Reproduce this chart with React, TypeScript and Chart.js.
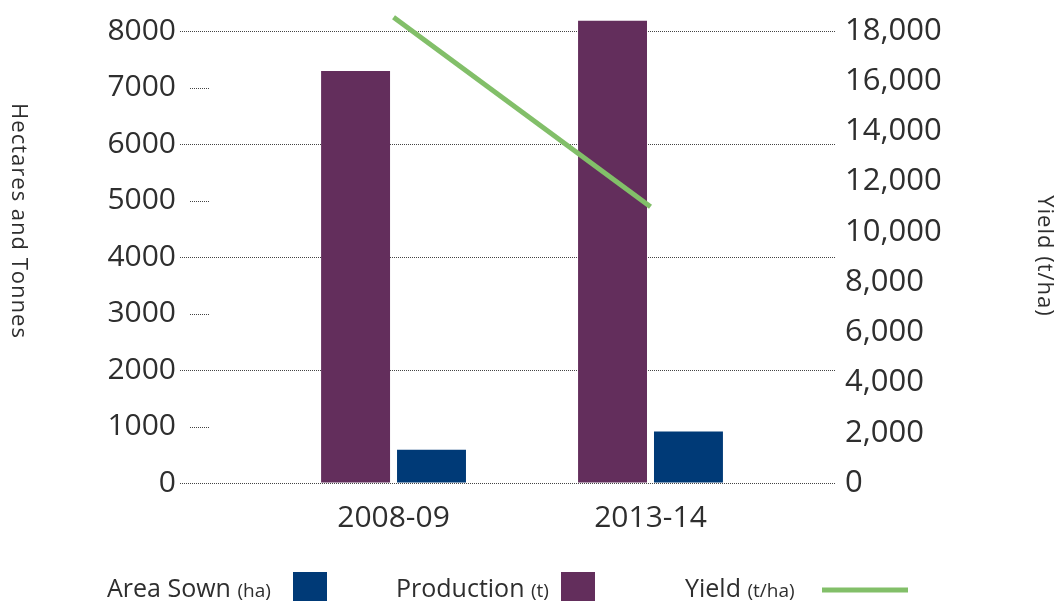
import React, { useEffect, useRef } from 'react';
import { Chart, registerables } from 'chart.js';

Chart.register(...registerables);

const categories = ['2008-09', '2013-14'];
const productionT = [7290, 8180];
const areaSownHa = [590, 910];
const yieldTHa = [18550, 11000];

const leftMin = 0;
const leftMax = 8000;
const leftStep = 1000;
const rightMin = 0;
const rightMax = 18000;
const rightStep = 2000;

const leftTitle = 'Hectares and Tonnes';
const rightTitle = 'Yield (t/ha)';
const legendItems = [
  { label: 'Area Sown', unit: '(ha)', kind: 'box', color: '#003a77' },
  { label: 'Production', unit: '(t)', kind: 'box', color: '#632e5c' },
  { label: 'Yield', unit: '(t/ha)', kind: 'line', color: '#82bf69' },
];

const FONT = '"Open Sans", "DejaVu Sans", sans-serif';
const TEXT = '#2e2e2e';
const GRID = '#444';

const decorPlugin = {
  id: 'decor',
  beforeDatasetsDraw(chart: any) {
    const { ctx, chartArea } = chart;
    const y = chart.scales.y;
    ctx.save();
    ctx.strokeStyle = GRID;
    ctx.lineWidth = 1;
    ctx.setLineDash([1, 1]);
    for (let v = leftMin + leftStep; v < leftMax; v += 2 * leftStep) {
      const py = Math.round(y.getPixelForValue(v)) + 0.5;
      ctx.beginPath();
      ctx.moveTo(chartArea.left + 10, py);
      ctx.lineTo(chartArea.left + 30, py);
      ctx.stroke();
    }
    ctx.restore();
  },
  afterDraw(chart: any) {
    const { ctx } = chart;
    ctx.save();
    ctx.fillStyle = TEXT;
    ctx.textAlign = 'center';
    ctx.textBaseline = 'middle';
    ctx.font = `22px ${FONT}`;
    (ctx as any).letterSpacing = '1px';
    ctx.save();
    ctx.translate(18, 221);
    ctx.rotate(Math.PI / 2);
    ctx.fillText(leftTitle, 0, 0);
    ctx.restore();
    ctx.save();
    ctx.translate(1044, 256);
    ctx.rotate(Math.PI / 2);
    ctx.fillText(rightTitle, 0, 0);
    ctx.restore();
    (ctx as any).letterSpacing = '0px';

    const xs = [107, 396, 685];
    const swatchX = [293, 561, 822];
    ctx.textAlign = 'left';
    ctx.textBaseline = 'alphabetic';
    legendItems.forEach((it, i) => {
      ctx.fillStyle = TEXT;
      ctx.font = `25px ${FONT}`;
      ctx.fillText(it.label, xs[i], 597);
      const w = ctx.measureText(it.label + ' ').width;
      ctx.font = `19px ${FONT}`;
      ctx.fillText(it.unit, xs[i] + w, 597);
      if (it.kind === 'box') {
        ctx.fillStyle = it.color;
        ctx.fillRect(swatchX[i], 572, 34, 29);
      } else {
        ctx.strokeStyle = it.color;
        ctx.lineWidth = 5;
        ctx.beginPath();
        ctx.moveTo(swatchX[i], 590);
        ctx.lineTo(swatchX[i] + 86, 590);
        ctx.stroke();
      }
    });
    ctx.restore();
  },
};

export default function App() {
  const ref = useRef<HTMLCanvasElement>(null);

  useEffect(() => {
    document.body.style.margin = '0';
    const canvas = ref.current;
    if (!canvas) return;
    const tickFont = { family: FONT, size: 30 };
    const chart = new Chart(canvas, {
      type: 'bar',
      data: {
        datasets: [
          {
            type: 'line',
            label: 'Yield (t/ha)',
            data: yieldTHa.map((v, i) => ({ x: i, y: v })),
            yAxisID: 'y1',
            borderColor: '#82bf69',
            borderWidth: 5,
            pointRadius: 0,
            borderCapStyle: 'butt',
            clip: false,
            order: 0,
          } as any,
          {
            label: 'Production (t)',
            data: productionT.map((v, i) => ({ x: i, y: v })),
            backgroundColor: '#632e5c',
            yAxisID: 'y',
            clip: false,
            order: 1,
          } as any,
          {
            label: 'Area Sown (ha)',
            data: areaSownHa.map((v, i) => ({ x: i, y: v })),
            backgroundColor: '#003a77',
            yAxisID: 'y',
            clip: false,
            order: 1,
          } as any,
        ],
      },
      options: {
        animation: false,
        responsive: false,
        maintainAspectRatio: false,
        categoryPercentage: 0.591,
        barPercentage: 0.908,
        layout: { padding: { top: 31, left: 0, right: 0, bottom: 0 } },
        plugins: { legend: { display: false }, tooltip: { enabled: false } },
        scales: {
          x: {
            type: 'linear',
            offset: false,
            min: -0.831,
            max: 1.718,
            afterBuildTicks: (s: any) => {
              s.ticks = categories.map((_, i) => ({ value: i }));
            },
            afterFit: (s: any) => {
              s.height = 119;
            },
            ticks: {
              callback: (v: any) => categories[v] ?? '',
              font: tickFont,
              color: TEXT,
              padding: 17,
              autoSkip: false,
              maxRotation: 0,
            },
            grid: { display: false, drawTicks: false },
            border: { display: false },
          },
          y: {
            position: 'left',
            min: leftMin,
            max: leftMax,
            afterFit: (s: any) => {
              s.width = 180;
            },
            ticks: {
              stepSize: leftStep,
              font: tickFont,
              color: TEXT,
              padding: 4,
              callback: (v: any) => String(v),
            },
            grid: {
              drawTicks: false,
              color: (c: any) => (c.tick && c.tick.value % (2 * leftStep) === 0 ? GRID : 'rgba(0,0,0,0)'),
              lineWidth: 1,
            },
            border: { display: false, dash: [1, 1] },
          },
          y1: {
            position: 'right',
            min: rightMin,
            max: rightMax,
            afterFit: (s: any) => {
              s.width = 222;
            },
            ticks: {
              stepSize: rightStep,
              font: { family: FONT, size: 31 },
              color: TEXT,
              padding: 10,
              callback: (v: any) => Number(v).toLocaleString('en-US'),
            },
            grid: { drawOnChartArea: false, drawTicks: false },
            border: { display: false },
          },
        },
      } as any,
      plugins: [decorPlugin],
    });
    return () => chart.destroy();
  }, []);

  return <canvas ref={ref} width={1057} height={602} style={{ display: 'block' }} />;
}
